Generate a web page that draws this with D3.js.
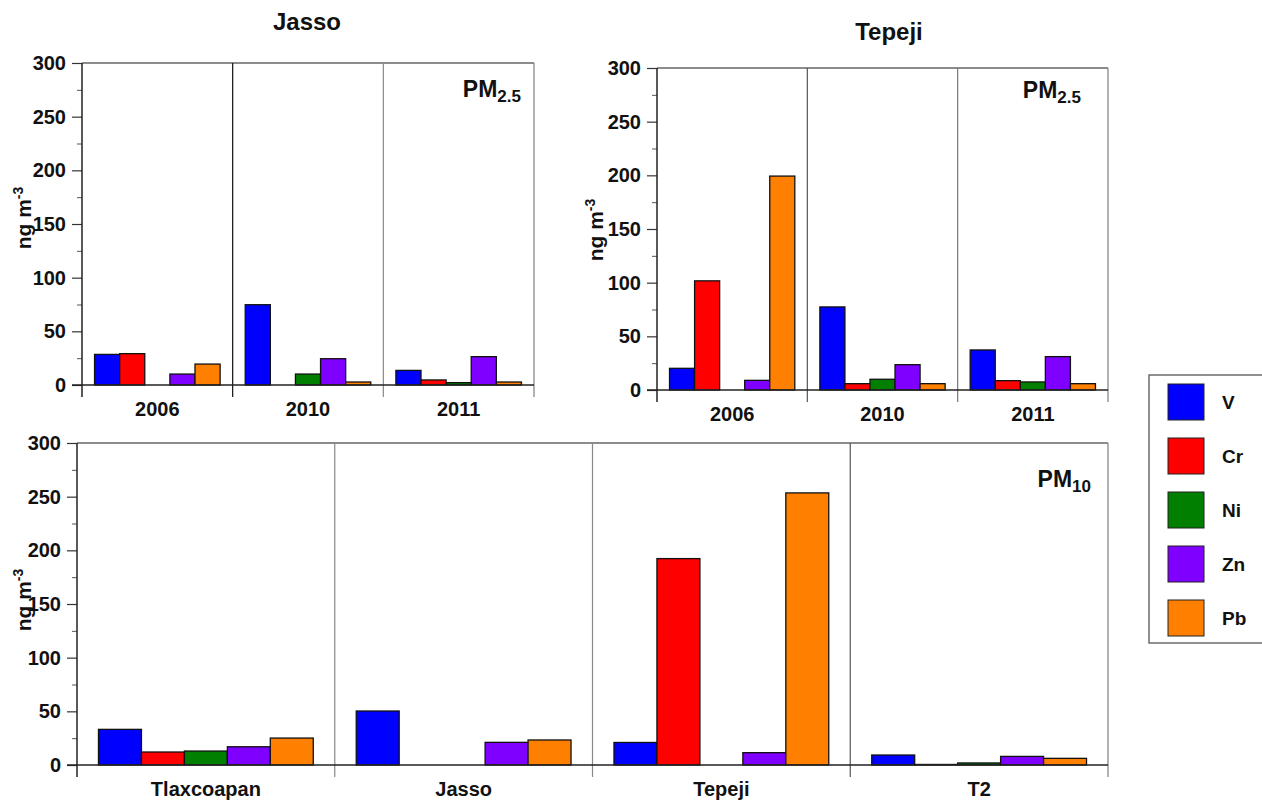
<!DOCTYPE html>
<html>
<head>
<meta charset="utf-8">
<script src="https://cdn.jsdelivr.net/npm/d3@7"></script>
<style>
  html, body { margin: 0; padding: 0; background: #fff; }
  svg { display: block; font-family: "Liberation Sans", Arial, sans-serif; }
</style>
</head>
<body>
<svg id="chart" width="1262" height="801"></svg>
<script>
// ---------- data ----------
const elements = ["V", "Cr", "Ni", "Zn", "Pb"];
const years = ["2006", "2010", "2011"];
const sites = ["Tlaxcoapan", "Jasso", "Tepeji", "T2"];
const yTicks = [0, 50, 100, 150, 200, 250, 300];
const yMinorTicks = [25, 75, 125, 175, 225, 275];

// PM2.5 Jasso (ng m-3), order: V, Cr, Ni, Zn, Pb
const jasso2006 = [28.5, 29.2, 0, 10.2, 19.5];
const jasso2010 = [74.8, 0, 10.2, 24.5, 2.8];
const jasso2011 = [13.6, 4.7, 2.2, 26.4, 2.8];
// PM2.5 Tepeji
const tepeji2006 = [20.2, 101.7, 0, 9.0, 199.3];
const tepeji2010 = [77.4, 5.9, 10.0, 23.6, 5.9];
const tepeji2011 = [37.3, 8.7, 7.5, 31.1, 5.9];
// PM10 by site
const pm10Tlaxcoapan = [33.2, 12.1, 13.0, 17.0, 25.1];
const pm10Jasso = [50.3, 0, 0, 21.1, 23.3];
const pm10Tepeji = [21.0, 192.3, 0, 11.5, 253.5];
const pm10T2 = [9.3, 0.5, 1.9, 8.0, 6.2];

const colors = ["#0000ff", "#ff0000", "#007f00", "#7f00ff", "#ff7f00"];

// ---------- drawing ----------
const svg = d3.select("#chart");
const color = d3.scaleOrdinal().domain(elements).range(colors);
const FONT = "'Liberation Sans', Arial, sans-serif";

function drawPanel(opt) {
  const g = svg.append("g");
  const x0 = d3.scaleBand().domain(opt.groups).range([opt.left, opt.right]).padding(0);
  const x1 = d3.scaleBand().domain(elements).range([0, x0.bandwidth()]).paddingInner(0).paddingOuter(0.5);
  const y = d3.scaleLinear().domain([0, 300]).range([opt.bottom, opt.top]);

  // frame (top + right)
  g.append("line").attr("x1", opt.left).attr("x2", opt.right).attr("y1", opt.top).attr("y2", opt.top)
    .attr("stroke", "#666").attr("stroke-width", 1.3);
  g.append("line").attr("x1", opt.right).attr("x2", opt.right).attr("y1", opt.top).attr("y2", opt.bottom + 12)
    .attr("stroke", "#888").attr("stroke-width", 1.3);

  // group dividers
  opt.groups.slice(1).forEach((gr, i) => {
    g.append("line").attr("x1", x0(gr)).attr("x2", x0(gr))
      .attr("y1", opt.top).attr("y2", opt.bottom + 12)
      .attr("stroke", opt.dividerColors[i]).attr("stroke-width", 1.2);
  });

  // bars
  opt.groups.forEach((gr, gi) => {
    const vals = opt.values[gi];
    const rows = elements.map((e, i) => ({ e, v: vals[i] })).filter(d => d.v > 0);
    g.append("g").selectAll("rect").data(rows).join("rect")
      .attr("x", d => x0(gr) + x1(d.e))
      .attr("y", d => y(d.v))
      .attr("width", x1.bandwidth())
      .attr("height", d => y(0) - y(d.v))
      .attr("fill", d => color(d.e))
      .attr("stroke", "#111")
      .attr("stroke-width", 1.3);
  });

  // y axis (major)
  const yAxis = g.append("g").attr("transform", `translate(${opt.left},0)`)
    .call(d3.axisLeft(y).tickValues(yTicks).tickSize(10).tickPadding(6).tickFormat(d3.format("d")));
  yAxis.selectAll("text").attr("font-size", 20).attr("fill", "#111").attr("font-weight", "bold")
    .attr("font-family", FONT);
  yAxis.selectAll("line").attr("stroke", "#333").attr("stroke-width", 1.2);
  yAxis.select(".domain").remove();
  // minor ticks
  const yMinor = g.append("g").attr("transform", `translate(${opt.left},0)`)
    .call(d3.axisLeft(y).tickValues(yMinorTicks).tickSize(5).tickFormat(""));
  yMinor.select(".domain").remove();
  yMinor.selectAll("line").attr("stroke", "#555").attr("stroke-width", 1);
  g.append("line").attr("x1", opt.left).attr("x2", opt.left).attr("y1", opt.top).attr("y2", opt.bottom + 12)
    .attr("stroke", "#222").attr("stroke-width", 1.5);

  // x axis
  const xAxis = g.append("g").attr("transform", `translate(0,${opt.bottom})`)
    .call(d3.axisBottom(x0).tickSize(0).tickPadding(opt.xLabelPad));
  xAxis.select(".domain").remove();
  xAxis.selectAll("text").attr("font-size", 20).attr("fill", "#111").attr("font-weight", "bold")
    .attr("font-family", FONT);
  g.append("line").attr("x1", opt.left - 10).attr("x2", opt.right).attr("y1", opt.bottom).attr("y2", opt.bottom)
    .attr("stroke", "#222").attr("stroke-width", 1.5);

  // y title
  const yt = g.append("text")
    .attr("transform", `translate(${opt.yTitleX},${opt.yTitleY}) rotate(-90)`)
    .attr("text-anchor", "middle").attr("font-weight", "bold").attr("font-size", 21).attr("fill", "#111");
  yt.append("tspan").text("ng m");
  yt.append("tspan").attr("dy", -8).attr("font-size", 14).text("-3");

  // PM label
  const pm = g.append("text").attr("x", opt.pmX).attr("y", opt.pmY)
    .attr("text-anchor", "end").attr("font-weight", "bold").attr("fill", "#111");
  pm.append("tspan").attr("font-size", 23).text("PM");
  pm.append("tspan").attr("font-size", 17).attr("dy", 5).text(opt.pmSub);

  // title
  if (opt.title) {
    g.append("text").attr("x", opt.titleX).attr("y", opt.titleY).attr("text-anchor", "middle")
      .attr("font-weight", "bold").attr("font-size", 24).attr("fill", "#111").text(opt.title);
  }
}

drawPanel({
  groups: years, values: [jasso2006, jasso2010, jasso2011],
  left: 82, right: 534, top: 63, bottom: 385, xLabelPad: 17,
  dividerColors: ["#111", "#888"],
  yTitleX: 31, yTitleY: 218, pmX: 521, pmY: 97, pmSub: "2.5",
  title: "Jasso", titleX: 307, titleY: 30
});

drawPanel({
  groups: years, values: [tepeji2006, tepeji2010, tepeji2011],
  left: 657, right: 1108, top: 68, bottom: 390, xLabelPad: 17,
  dividerColors: ["#555", "#777"],
  yTitleX: 603, yTitleY: 230, pmX: 1081, pmY: 98, pmSub: "2.5",
  title: "Tepeji", titleX: 889, titleY: 40
});

drawPanel({
  groups: sites, values: [pm10Tlaxcoapan, pm10Jasso, pm10Tepeji, pm10T2],
  left: 77, right: 1108, top: 443, bottom: 765, xLabelPad: 17,
  dividerColors: ["#888", "#888", "#555"],
  yTitleX: 31, yTitleY: 600, pmX: 1091, pmY: 487, pmSub: "10",
  title: null
});

// legend
const legend = svg.append("g");
legend.append("rect").attr("x", 1149).attr("y", 375).attr("width", 140).attr("height", 268)
  .attr("fill", "#fff").attr("stroke", "#555").attr("stroke-width", 1.3);
const ly = d3.scaleBand().domain(elements).range([380, 650]).padding(0);
elements.forEach(e => {
  legend.append("rect").attr("x", 1168).attr("y", ly(e) + 4).attr("width", 36).attr("height", 36)
    .attr("fill", color(e)).attr("stroke", "#222").attr("stroke-width", 1);
  legend.append("text").attr("x", 1222).attr("y", ly(e) + 29).attr("font-size", 19).attr("fill", "#111")
    .attr("font-weight", "bold").text(e);
});
</script>
</body>
</html>
